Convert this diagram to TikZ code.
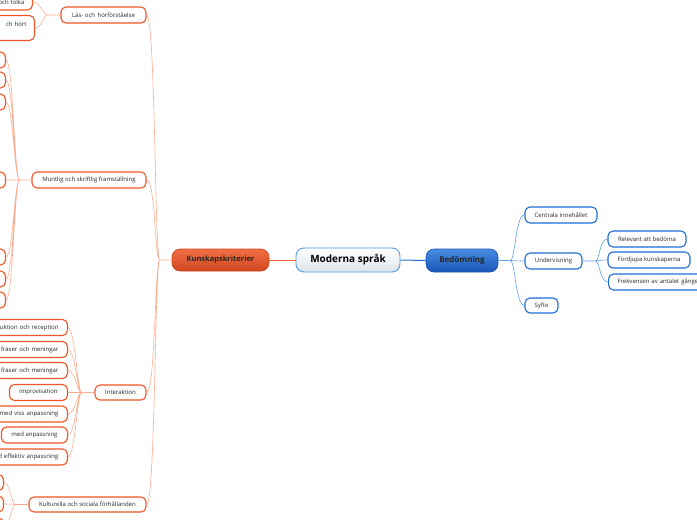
\documentclass[tikz,border=0pt]{standalone}
\usepackage{fontspec}
\setmainfont{Open Sans}
\usetikzlibrary{positioning}
\definecolor{mydark}{RGB}{40,40,40}
\definecolor{myorange}{RGB}{238,86,38}
\definecolor{kktop}{RGB}{242,112,70}
\definecolor{kkbottom}{RGB}{206,70,30}
\definecolor{linkorange}{RGB}{250,172,145}
\definecolor{mainorange}{RGB}{240,100,60}
\definecolor{myblue}{RGB}{30,110,210}
\definecolor{betop}{RGB}{72,142,226}
\definecolor{bebottom}{RGB}{26,84,184}
\definecolor{linkblue}{RGB}{100,158,228}
\definecolor{rootblue}{RGB}{70,150,220}
\definecolor{rootgray}{RGB}{222,228,234}
\tikzset{
  rootnode/.style={rectangle, draw=rootblue, top color=white, bottom color=rootgray,
    minimum width=104pt, minimum height=24pt, rounded corners=8pt, line width=0.8pt,
    font=\fontsize{10}{12}\selectfont\bfseries, text=black, inner sep=0pt},
  kknode/.style={rectangle, draw=kkbottom, top color=kktop, bottom color=kkbottom,
    minimum width=97pt, minimum height=22pt, rounded corners=8pt, line width=0.6pt,
    font=\fontsize{7.5}{9}\selectfont\bfseries, text=black!85, inner sep=0pt},
  benode/.style={rectangle, draw=bebottom, top color=betop, bottom color=bebottom,
    minimum width=72pt, minimum height=23pt, rounded corners=8pt, line width=0.6pt,
    font=\fontsize{8}{9}\selectfont\bfseries, text=black!85, inner sep=0pt},
  topic/.style={rectangle, draw=myorange, fill=white, minimum height=16pt,
    rounded corners=5pt, line width=1.1pt, font=\fontsize{6}{7}\selectfont,
    text=mydark, inner sep=0pt},
  bluetopic/.style={topic, draw=myblue},
  cutleaf/.style={topic, anchor=east, text width=90pt, align=right, inner xsep=8pt},
  emptyleaf/.style={topic, anchor=east, minimum width=40pt},
  orangelink/.style={line width=0.6pt, color=linkorange},
  bluelink/.style={line width=0.6pt, color=linkblue}
}
\begin{document}
\begin{tikzpicture}[x=1pt,y=-1pt]
  \useasboundingbox (0,0) rectangle (697,520);
  \clip (0,0) rectangle (697,520);
  % ── centre ───────────────────────────────────────────────────────────────
  \node[rootnode] (root) at (348,260) {Moderna språk};
  \node[kknode] (kk) at (220.5,260) {Kunskapskriterier};
  \node[benode] (be) at (462,260.5) {Bedömning};
  \draw[line width=1pt, color=mainorange] (kk.east) -- (root.west);
  \draw[line width=1pt, color=myblue] (root.east) -- (be.west);
  % ── Bedömning (right) ────────────────────────────────────────────────────
  \node[bluetopic, minimum width=72pt] (ce) at (561,215) {Centrala innehållet};
  \node[bluetopic, minimum width=57pt] (un) at (553.5,261) {Undervisning};
  \node[bluetopic, minimum width=33pt, minimum height=15pt] (sy) at (541.5,305.5) {Syfte};
  \node[bluetopic, minimum width=78pt] (re) at (647,239) {Relevant att bedöma};
  \node[bluetopic, minimum width=82pt] (fo) at (649,260) {Fördjupa kunskaperna};
  \node[bluetopic, anchor=west, text width=110pt, align=left, inner xsep=9pt] (fr) at (608,282)
    {Frekvensen av antalet gånger};
  \draw[bluelink] (be.east) -- ++(12,0) .. controls +(5,0) and +(-9,0) .. (ce.west)
                  (be.east) -- ++(12,0) .. controls +(5,0) and +(-9,0) .. (un.west)
                  (be.east) -- ++(12,0) .. controls +(5,0) and +(-9,0) .. (sy.west);
  \draw[bluelink] (un.east) -- ++(13,0) .. controls +(4,0) and +(-8,0) .. (re.west)
                  (un.east) -- ++(13,0) .. controls +(4,0) and +(-8,0) .. (fo.west)
                  (un.east) -- ++(13,0) .. controls +(4,0) and +(-8,0) .. (fr.west);
  % ── Kunskapskriterier (left) ─────────────────────────────────────────────
  \node[topic, minimum width=85pt] (ls) at (103.5,15) {Läs- och\, hörförståelse};
  \node[topic, minimum width=114pt] (mu) at (89,180) {Muntlig och skriftlig framställning};
  \node[topic, minimum width=51pt, minimum height=15pt] (in) at (120.5,392.5) {Interaktion};
  \node[topic, minimum width=117pt, minimum height=15pt] (ku) at (87.5,504.5) {Kulturella och sociala förhållanden};
  \draw[orangelink] (kk.west) -- ++(-12,0) .. controls +(-5,0) and +(9,0) .. (ls.east)
                    (kk.west) -- ++(-12,0) .. controls +(-5,0) and +(9,0) .. (mu.east)
                    (kk.west) -- ++(-12,0) .. controls +(-5,0) and +(9,0) .. (in.east)
                    (kk.west) -- ++(-12,0) .. controls +(-5,0) and +(9,0) .. (ku.east);
  % Läs- och hörförståelse
  \node[cutleaf] (ls1) at (33,2) {och tolka};
  \node[cutleaf, minimum height=25pt] (ls2) at (35,28) {ch hört\\ \mbox{}};
  \draw[orangelink] (ls.west) -- ++(-13,0) .. controls +(-4,0) and +(7,0) .. (ls1.east)
                    (ls.west) -- ++(-13,0) .. controls +(-4,0) and +(7,0) .. (ls2.east);
  % Muntlig och skriftlig framställning
  \node[emptyleaf] (mu1) at (6,60) {};
  \node[emptyleaf] (mu2) at (6,80) {};
  \node[emptyleaf] (mu3) at (6,102) {};
  \node[emptyleaf] (mu4) at (6,180) {};
  \node[emptyleaf] (mu5) at (6,257) {};
  \node[emptyleaf] (mu6) at (6,279) {};
  \node[emptyleaf] (mu7) at (6,300) {};
  \draw[orangelink] (mu.west) -- ++(-12,0) .. controls +(-5,0) and +(7,0) .. (mu1.east)
                    (mu.west) -- ++(-12,0) .. controls +(-5,0) and +(7,0) .. (mu2.east)
                    (mu.west) -- ++(-12,0) .. controls +(-5,0) and +(7,0) .. (mu3.east)
                    (mu.west) -- (mu4.east)
                    (mu.west) -- ++(-12,0) .. controls +(-5,0) and +(7,0) .. (mu5.east)
                    (mu.west) -- ++(-12,0) .. controls +(-5,0) and +(7,0) .. (mu6.east)
                    (mu.west) -- ++(-12,0) .. controls +(-5,0) and +(7,0) .. (mu7.east);
  % Interaktion
  \node[cutleaf, inner xsep=9pt] (in1) at (68,327.5) {duktion och reception};
  \node[cutleaf, inner xsep=9pt] (in2) at (68,349.5) {fraser och meningar};
  \node[cutleaf, inner xsep=9pt] (in3) at (68,370.5) {fraser och meningar};
  \node[topic, anchor=east, minimum width=58pt] (in4) at (68,392.5) {improvisation};
  \node[cutleaf, inner xsep=9pt] (in5) at (68,414) {med viss anpassning};
  \node[topic, anchor=east, minimum width=66pt] (in6) at (68,435) {med anpassning};
  \node[cutleaf, inner xsep=9pt] (in7) at (68,457) {d effektiv anpassning};
  \draw[orangelink] (in.west) -- ++(-13,0) .. controls +(-4,0) and +(7,0) .. (in1.east)
                    (in.west) -- ++(-13,0) .. controls +(-4,0) and +(7,0) .. (in2.east)
                    (in.west) -- ++(-13,0) .. controls +(-4,0) and +(7,0) .. (in3.east)
                    (in.west) -- (in4.east)
                    (in.west) -- ++(-13,0) .. controls +(-4,0) and +(7,0) .. (in5.east)
                    (in.west) -- ++(-13,0) .. controls +(-4,0) and +(7,0) .. (in6.east)
                    (in.west) -- ++(-13,0) .. controls +(-4,0) and +(7,0) .. (in7.east);
  % Kulturella och sociala förhållanden
  \node[emptyleaf] (ku1) at (4,482.5) {};
  \node[emptyleaf] (ku2) at (4,504) {};
  \node[emptyleaf] (ku3) at (4,526) {};
  \draw[orangelink] (ku.west) -- ++(-13,0) .. controls +(-4,0) and +(6,0) .. (ku1.east)
                    (ku.west) -- (ku2.east)
                    (ku.west) -- ++(-13,0) .. controls +(-4,0) and +(6,0) .. (ku3.east);
\end{tikzpicture}
\end{document}
